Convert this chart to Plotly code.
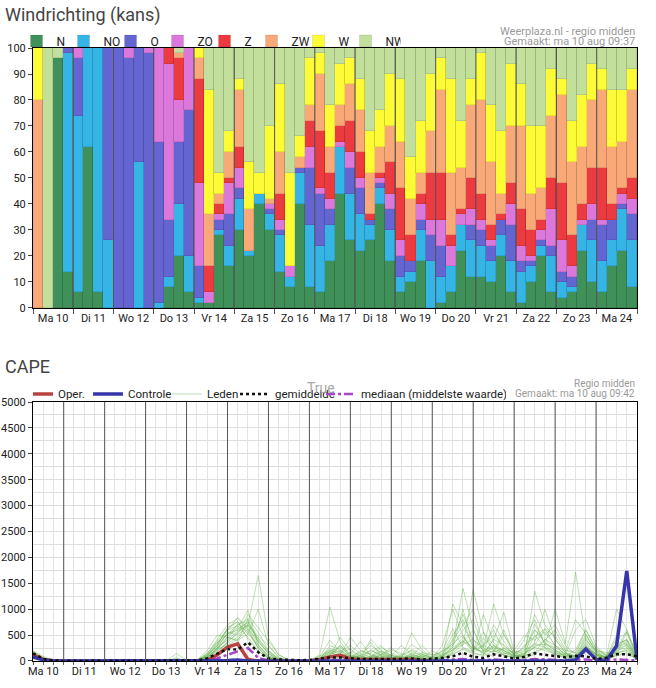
import plotly.graph_objects as go

# ---- time axes / labels ----
day_labels = ["Ma 10", "Di 11", "Wo 12", "Do 13", "Vr 14", "Za 15", "Zo 16", "Ma 17",
              "Di 18", "Wo 19", "Do 20", "Vr 21", "Za 22", "Zo 23", "Ma 24"]
day_centers = [12 + 24 * k for k in range(len(day_labels))]
day_bounds = [24 * k for k in range(1, len(day_labels))]

# ---- wind direction probabilities (%), 6-hourly from ma 10 00h ----
wind_hours = list(range(0, 360, 6))
wind_n = [0, 0, 96, 14, 6, 62, 6, 0, 0, 0, 0, 0, 0, 8, 20, 6, 2, 2, 28, 16,
          30, 20, 40, 30, 14, 8, 40, 8, 6, 18, 44, 26, 22, 26, 40, 18, 6, 10, 18, 0,
          2, 6, 22, 12, 12, 10, 20, 6, 2, 10, 20, 6, 4, 6, 22, 10, 6, 16, 22, 8]
wind_no = [0, 0, 0, 84, 68, 38, 94, 26, 0, 0, 56, 0, 2, 4, 20, 14, 2, 0, 2, 8,
           12, 2, 4, 6, 14, 4, 12, 24, 18, 14, 18, 18, 14, 6, 6, 12, 6, 4, 12, 18,
           10, 10, 10, 14, 12, 8, 8, 12, 12, 6, 4, 14, 6, 2, 10, 16, 12, 10, 16, 18]
wind_o = [0, 0, 0, 2, 22, 0, 0, 74, 100, 96, 44, 98, 62, 22, 24, 56, 12, 0, 4, 12,
          4, 0, 0, 2, 2, 0, 2, 22, 20, 6, 0, 10, 10, 2, 2, 8, 8, 4, 4, 10,
          12, 0, 0, 6, 6, 6, 6, 14, 4, 2, 2, 4, 4, 4, 0, 8, 14, 8, 2, 10]
wind_zo = [0, 0, 0, 0, 4, 0, 0, 0, 0, 4, 0, 2, 36, 60, 16, 24, 32, 4, 2, 12,
           8, 0, 0, 2, 4, 4, 0, 8, 2, 4, 2, 6, 4, 0, 2, 6, 6, 0, 6, 6,
           10, 8, 4, 6, 4, 2, 0, 8, 6, 2, 4, 14, 12, 4, 2, 6, 2, 0, 4, 6]
wind_z = [0, 0, 0, 0, 0, 0, 0, 0, 0, 0, 0, 0, 0, 6, 16, 0, 40, 10, 4, 2,
          8, 0, 0, 0, 10, 0, 0, 10, 22, 10, 6, 12, 10, 2, 2, 12, 20, 10, 4, 18,
          18, 4, 2, 12, 10, 6, 2, 8, 14, 10, 4, 12, 22, 12, 6, 14, 20, 6, 2, 8]
wind_zw = [80, 0, 0, 0, 0, 0, 0, 0, 0, 0, 0, 0, 0, 0, 2, 0, 8, 20, 4, 10,
           22, 16, 0, 2, 16, 0, 4, 6, 22, 10, 8, 14, 16, 16, 10, 14, 18, 14, 8, 16,
           32, 24, 16, 28, 36, 24, 8, 22, 32, 14, 12, 24, 34, 28, 22, 26, 30, 22, 18, 34]
wind_w = [20, 0, 0, 0, 0, 0, 0, 0, 0, 0, 0, 0, 0, 0, 0, 0, 4, 48, 8, 8,
          4, 18, 8, 28, 26, 36, 8, 18, 8, 16, 16, 10, 12, 16, 14, 20, 24, 16, 20, 22,
          12, 36, 18, 10, 18, 22, 24, 24, 16, 26, 24, 18, 6, 16, 20, 14, 8, 22, 20, 8]
wind_nw = [0, 100, 4, 0, 0, 0, 0, 0, 0, 0, 0, 0, 0, 0, 2, 0, 0, 16, 48, 32,
           12, 44, 48, 30, 14, 48, 34, 4, 2, 22, 6, 4, 12, 32, 24, 10, 12, 42, 28, 10,
           4, 12, 28, 12, 2, 22, 32, 6, 14, 30, 30, 8, 12, 28, 18, 6, 8, 16, 16, 8]

dir_names = ["N", "NO", "O", "ZO", "Z", "ZW", "W", "NW"]
dir_values = [wind_n, wind_no, wind_o, wind_zo, wind_z, wind_zw, wind_w, wind_nw]
dir_colors = ["#3f9159", "#35b4e6", "#6565d2", "#dc78dc", "#ec3b40",
              "#f9a877", "#fdfb35", "#c2df9b"]

# ---- CAPE (J/kg), 6-hourly from ma 10 06h ----
cape_hours = list(range(6, 361, 6))
oper = [120, 30, 5, 0, 0, 0, 0, 0, 0, 0, 0, 0, 0, 0, 0, 0, 0, 10, 120, 270,
        330, 30, 0, 10, 10, 0, 0, 5, 30, 80, 110, 40, 30, 30, 20, 20, 30, 30, 10, 0]
controle = [80, 20, 0, 0, 0, 0, 0, 0, 0, 0, 0, 0, 0, 0, 0, 0, 0, 0, 0, 10,
            20, 0, 0, 0, 0, 0, 0, 0, 0, 10, 10, 0, 0, 0, 0, 0, 0, 0, 0, 0,
            0, 0, 10, 0, 0, 10, 0, 0, 0, 10, 0, 0, 0, 20, 230, 30, 10, 290, 1740, 30]
gemiddelde = [150, 40, 10, 2, 2, 2, 2, 2, 2, 2, 2, 2, 2, 8, 15, 5, 10, 50, 140, 230,
              220, 360, 170, 50, 30, 20, 15, 20, 40, 70, 70, 50, 40, 40, 45, 40, 40, 50, 30, 40,
              60, 90, 160, 80, 60, 130, 90, 50, 80, 150, 120, 100, 70, 100, 90, 40, 60, 130, 130, 90]
mediaan = [100, 20, 0, 0, 0, 0, 0, 0, 0, 0, 0, 0, 0, 0, 0, 0, 0, 20, 50, 120,
           180, 250, 60, 10, 0, 0, 0, 0, 0, 20, 20, 10, 0, 10, 0, 0, 10, 10, 0, 0,
           10, 30, 40, 20, 10, 30, 20, 10, 20, 40, 30, 20, 10, 20, 30, 10, 10, 30, 20, 10]

leden = [
    [180, 60, 0, 0, 0, 0, 0, 0, 0, 0, 0, 0, 0, 0, 0, 0, 20, 150, 380, 620,
     760, 420, 180, 60, 10, 0, 0, 0, 40, 180, 260, 120, 60, 220, 90, 30, 20, 140, 60, 10,
     80, 300, 1400, 620, 150, 90, 260, 80, 40, 160, 420, 300, 120, 80, 340, 60, 40, 220, 380, 60],
    [120, 30, 0, 0, 0, 0, 0, 0, 0, 0, 0, 0, 0, 0, 60, 0, 0, 90, 300, 520,
     640, 980, 300, 80, 20, 0, 0, 10, 120, 1040, 380, 90, 40, 60, 180, 120, 40, 60, 30, 20,
     60, 1100, 700, 280, 120, 420, 940, 180, 60, 120, 300, 1000, 340, 1720, 400, 200, 160, 160, 200, 40],
    [200, 90, 10, 0, 0, 0, 0, 0, 0, 0, 0, 0, 0, 0, 140, 20, 0, 60, 240, 560,
     500, 700, 1650, 440, 120, 20, 0, 0, 60, 220, 120, 460, 200, 120, 60, 40, 90, 320, 180, 40,
     40, 160, 300, 1380, 540, 200, 120, 60, 80, 1350, 700, 420, 160, 100, 240, 120, 60, 120, 560, 120],
    [60, 10, 0, 0, 0, 0, 0, 0, 0, 0, 0, 0, 0, 0, 20, 0, 0, 120, 420, 700,
     820, 600, 240, 60, 0, 0, 0, 0, 20, 80, 300, 140, 380, 90, 40, 20, 60, 540, 220, 60,
     120, 420, 900, 400, 260, 1100, 500, 200, 140, 600, 420, 220, 80, 60, 300, 100, 80, 1000, 600, 80],
    [100, 20, 0, 0, 0, 0, 0, 0, 0, 0, 0, 0, 0, 0, 0, 0, 10, 200, 500, 460,
     380, 820, 560, 200, 40, 10, 0, 0, 80, 400, 180, 60, 120, 300, 160, 80, 40, 100, 300, 100,
     200, 620, 260, 180, 900, 360, 160, 90, 300, 460, 620, 300, 180, 800, 520, 200, 40, 300, 420, 100],
    [160, 40, 0, 0, 0, 0, 0, 0, 0, 0, 0, 0, 0, 0, 0, 0, 0, 60, 260, 420,
     720, 560, 260, 80, 10, 0, 0, 0, 0, 100, 460, 200, 100, 40, 120, 260, 80, 40, 120, 60,
     300, 1000, 480, 160, 300, 600, 200, 120, 420, 800, 300, 160, 80, 220, 600, 240, 100, 240, 300, 40],
    [80, 20, 0, 0, 0, 0, 0, 0, 0, 0, 0, 0, 0, 0, 0, 0, 0, 40, 180, 360,
     560, 700, 480, 300, 80, 10, 0, 0, 40, 160, 100, 80, 40, 420, 200, 60, 120, 200, 90, 40,
     100, 260, 1000, 300, 140, 420, 300, 120, 200, 900, 500, 700, 300, 120, 400, 180, 60, 160, 200, 20],
    [140, 50, 0, 0, 0, 0, 0, 0, 0, 0, 0, 0, 0, 0, 0, 0, 20, 100, 320, 600,
     680, 460, 200, 40, 0, 0, 0, 0, 60, 240, 180, 300, 140, 80, 260, 160, 60, 80, 40, 20,
     40, 180, 400, 180, 560, 300, 100, 60, 140, 360, 1000, 420, 160, 80, 280, 140, 80, 420, 540, 60],
    [60, 20, 0, 0, 0, 0, 0, 0, 0, 0, 0, 0, 0, 0, 0, 0, 0, 80, 240, 300,
     420, 620, 380, 140, 20, 0, 0, 0, 20, 300, 220, 60, 200, 140, 60, 100, 300, 120, 60, 200,
     80, 400, 700, 1000, 300, 200, 600, 120, 80, 500, 260, 140, 120, 600, 800, 300, 100, 140, 240, 40],
    [180, 70, 10, 0, 0, 0, 0, 0, 0, 0, 0, 0, 0, 0, 0, 0, 10, 140, 360, 520,
     600, 760, 420, 180, 40, 0, 0, 0, 100, 180, 80, 40, 100, 200, 120, 60, 40, 160, 120, 80,
     140, 500, 800, 240, 180, 700, 380, 100, 160, 260, 400, 600, 220, 160, 520, 160, 40, 200, 600, 100],
    [90, 20, 0, 0, 0, 0, 0, 0, 0, 0, 0, 0, 0, 0, 0, 0, 0, 30, 140, 380,
     520, 900, 640, 360, 120, 20, 0, 0, 0, 60, 140, 100, 60, 80, 200, 100, 60, 220, 140, 40,
     60, 220, 360, 600, 200, 300, 200, 80, 100, 720, 340, 200, 100, 60, 360, 120, 60, 500, 300, 20],
    [120, 40, 0, 0, 0, 0, 0, 0, 0, 0, 0, 0, 0, 0, 0, 0, 0, 80, 300, 640,
     760, 520, 300, 100, 20, 0, 0, 0, 40, 120, 300, 80, 160, 360, 100, 40, 100, 60, 160, 120,
     160, 340, 500, 200, 440, 240, 140, 200, 500, 400, 560, 300, 120, 100, 480, 200, 100, 260, 420, 60],
    [40, 10, 0, 0, 0, 0, 0, 0, 0, 0, 0, 0, 0, 0, 0, 0, 0, 40, 220, 460,
     400, 520, 1000, 300, 60, 0, 0, 0, 20, 200, 160, 240, 80, 60, 100, 220, 140, 80, 40, 60,
     200, 300, 600, 800, 240, 160, 520, 120, 60, 300, 620, 480, 200, 160, 600, 240, 120, 340, 400, 40],
    [150, 50, 0, 0, 0, 0, 0, 0, 0, 0, 0, 0, 0, 0, 40, 10, 0, 120, 280, 520,
     700, 800, 360, 160, 30, 0, 0, 0, 60, 140, 200, 100, 60, 160, 300, 80, 40, 100, 60, 20,
     100, 200, 460, 220, 300, 500, 300, 140, 260, 600, 360, 200, 140, 60, 440, 120, 40, 180, 320, 60],
    [70, 20, 0, 0, 0, 0, 0, 0, 0, 0, 0, 0, 0, 0, 0, 0, 0, 60, 200, 340,
     460, 680, 440, 200, 40, 0, 0, 0, 20, 100, 120, 60, 40, 100, 60, 40, 20, 80, 40, 20,
     60, 140, 220, 140, 120, 300, 160, 80, 140, 260, 200, 140, 60, 40, 200, 80, 20, 120, 160, 20],
    [110, 30, 0, 0, 0, 0, 0, 0, 0, 0, 0, 0, 0, 0, 0, 0, 0, 100, 340, 600,
     840, 640, 240, 60, 10, 0, 0, 0, 0, 40, 60, 40, 20, 60, 40, 20, 20, 60, 40, 20,
     40, 120, 240, 160, 100, 200, 120, 60, 100, 180, 240, 120, 60, 40, 160, 60, 20, 100, 140, 40],
    [90, 30, 0, 0, 0, 0, 0, 0, 0, 0, 0, 0, 0, 0, 0, 0, 0, 50, 260, 400,
     580, 700, 300, 100, 20, 0, 0, 0, 30, 120, 80, 160, 60, 40, 140, 60, 40, 120, 80, 20,
     80, 260, 380, 260, 160, 260, 200, 100, 120, 340, 260, 180, 100, 80, 300, 100, 60, 200, 260, 40],
    [130, 40, 0, 0, 0, 0, 0, 0, 0, 0, 0, 0, 0, 0, 0, 0, 0, 70, 220, 480,
     620, 740, 400, 140, 30, 0, 0, 0, 40, 80, 140, 60, 100, 40, 80, 120, 60, 40, 100, 40,
     120, 220, 320, 420, 200, 180, 240, 160, 220, 300, 320, 260, 140, 100, 260, 140, 80, 280, 340, 60],
]

FONT = "Roboto, Arial, sans-serif"
fig = go.Figure()

# ---- top: stacked wind direction bars ----
for name, vals, col in zip(dir_names, dir_values, dir_colors):
    fig.add_trace(go.Bar(
        x=wind_hours, y=vals, name=name, offset=0, width=6,
        marker=dict(color=col, line=dict(color="rgba(0,0,0,0.18)", width=0.5)),
        xaxis="x", yaxis="y", legend="legend",
    ))

# ---- bottom: CAPE lines ----
for i, m in enumerate(leden):
    fig.add_trace(go.Scatter(
        x=cape_hours, y=m, mode="lines", name="Leden", legendgroup="leden",
        showlegend=(i == 0), legendrank=3, legendwidth=38,
        line=dict(color="rgba(95,175,70,0.45)", width=0.9),
        xaxis="x2", yaxis="y2", legend="legend2",
    ))
fig.add_trace(go.Scatter(
    x=cape_hours, y=mediaan, mode="lines", name="mediaan (middelste waarde)",
    legendrank=5, legendwidth=140,
    line=dict(color="#a646c8", width=2.5, dash="dashdot"),
    xaxis="x2", yaxis="y2", legend="legend2",
))
fig.add_trace(go.Scatter(
    x=cape_hours[:len(oper)], y=oper, mode="lines", name="Oper.",
    legendrank=1, legendwidth=40,
    line=dict(color="#b8433f", width=3.5),
    xaxis="x2", yaxis="y2", legend="legend2",
))
fig.add_trace(go.Scatter(
    x=cape_hours, y=controle, mode="lines", name="Controle",
    legendrank=2, legendwidth=49,
    line=dict(color="#3636aa", width=3.5),
    xaxis="x2", yaxis="y2", legend="legend2",
))
fig.add_trace(go.Scatter(
    x=cape_hours, y=gemiddelde, mode="lines", name="gemiddelde",
    legendrank=4, legendwidth=56,
    line=dict(color="#111111", width=2.5, dash="dot"),
    xaxis="x2", yaxis="y2", legend="legend2",
))

# day separator lines
shapes = []
for h in day_bounds:
    shapes.append(dict(type="line", xref="x", yref="y domain", x0=h, x1=h, y0=0, y1=1,
                       line=dict(color="#555555", width=1), layer="above"))
    shapes.append(dict(type="line", xref="x2", yref="y2 domain", x0=h, x1=h, y0=0, y1=1,
                       line=dict(color="#555555", width=1), layer="above"))

annos = [
    dict(text="Windrichting (kans)", x=-0.0497, y=1.054, xanchor="left", yanchor="middle",
         font=dict(size=18, color="#444444")),
    dict(text="Weerplaza.nl - regio midden", x=1.0, y=1.0277, xanchor="right", yanchor="middle",
         font=dict(size=11, color="#9a9a9a")),
    dict(text="Gemaakt: ma 10 aug 09:37", x=1.0, y=1.0098, xanchor="right", yanchor="middle",
         font=dict(size=11, color="#9a9a9a")),
    dict(text="CAPE", x=-0.0497, y=0.4812, xanchor="left", yanchor="middle",
         font=dict(size=18, color="#444444")),
    dict(text="Regio midden", x=1.0, y=0.4535, xanchor="right", yanchor="middle",
         font=dict(size=10, color="#9a9a9a")),
    dict(text="Gemaakt: ma 10 aug 09:42", x=1.0, y=0.4356, xanchor="right", yanchor="middle",
         font=dict(size=10, color="#9a9a9a")),
    dict(text="True", x=0.477, y=0.4454, xanchor="center", yanchor="middle",
         font=dict(size=14, color="#a8a8a8")),
]
for a in annos:
    a.update(xref="paper", yref="paper", showarrow=False)

axis_common = dict(showline=True, linecolor="#000000", linewidth=1, mirror=True,
                   tickfont=dict(size=11, color="#222222"), zeroline=False,
                   automargin=False)

fig.update_layout(
    width=656, height=688,
    margin=dict(l=33, r=19, t=48, b=27),
    paper_bgcolor="white", plot_bgcolor="white",
    font=dict(family=FONT, color="#222222"),
    barmode="stack", bargap=0,
    showlegend=True,
    xaxis=dict(domain=[0, 1], anchor="y", range=[0, 360],
               tickmode="array", tickvals=day_centers, ticktext=day_labels, ticks="",
               showgrid=False,
               minor=dict(tickmode="linear", tick0=0, dtick=24, ticks="outside",
                          ticklen=5, tickcolor="#555555", showgrid=False),
               **axis_common),
    yaxis=dict(domain=[0.5759, 1.0], anchor="x", range=[0, 100], dtick=10,
               ticks="outside", ticklen=4, showgrid=False, **axis_common),
    xaxis2=dict(domain=[0, 1], anchor="y2", range=[6, 360],
                tickmode="array", tickvals=day_centers, ticktext=day_labels, ticks="",
                showgrid=True, gridcolor="#e3e3e3",
                minor=dict(tickmode="linear", tick0=0, dtick=6, ticks="outside",
                           ticklen=3, tickcolor="#666666", showgrid=True,
                           gridcolor="#e3e3e3"),
                **axis_common),
    yaxis2=dict(domain=[0, 0.4225], anchor="x2", range=[0, 5000], dtick=500,
                ticks="outside", ticklen=4, showgrid=True, gridcolor="#dedede",
                minor=dict(dtick=250, showgrid=True, gridcolor="#dedede"),
                **axis_common),
    legend=dict(orientation="h", x=-0.014, y=1.0114, xanchor="left", yanchor="middle",
                indentation=-8,
                font=dict(size=12, color="#222222"), entrywidth=10, entrywidthmode="pixels",
                bgcolor="rgba(0,0,0,0)", traceorder="normal"),
    legend2=dict(orientation="h", x=0, y=0.4356, xanchor="left", yanchor="middle",
                 indentation=-15,
                 font=dict(size=11.5, color="#222222"), bgcolor="rgba(0,0,0,0)"),
    shapes=shapes,
    annotations=annos,
)

# drop the browser's default 8px body margin so the figure sits at the window corner
fig.write_html("out.html", config={"displayModeBar": False},
               post_script="document.body.style.margin = '0px';")
